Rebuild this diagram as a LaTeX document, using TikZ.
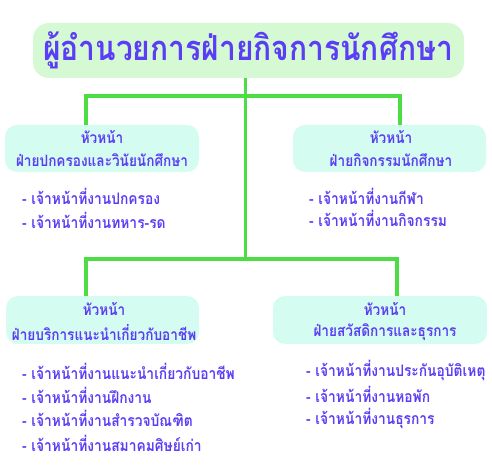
\documentclass[tikz,border=0pt]{standalone}
\usepackage{fontspec}
\newfontfamily\thaifont[Script=Thai]{Loma}
\definecolor{tcol}{HTML}{5B3DF5}
\definecolor{lcol}{HTML}{4CDC44}
\definecolor{titlefill}{HTML}{D5FAD3}
\definecolor{boxfill}{HTML}{D4FCF0}
\newcommand{\tall}[1]{\scalebox{1}[1.15]{#1}}
\tikzset{
  titlebox/.style={fill=titlefill, rounded corners=16pt},
  headbox/.style={fill=boxfill, rounded corners=12pt},
  headtext/.style={text=tcol, font=\thaifont\bfseries\fontsize{13.6}{15}\selectfont, inner sep=0pt, anchor=center},
  item/.style={text=tcol, font=\thaifont\bfseries\fontsize{13.8}{15}\selectfont, inner sep=0pt, anchor=west},
  conn/.style={draw=lcol, line width=3.5pt}
}
\begin{document}
\begin{tikzpicture}[x=1pt,y=-1pt]
\useasboundingbox (0,0) rectangle (492,473);
% title
\path[titlebox] (33,23) rectangle (464,78);
\node (title) [text=tcol, font=\thaifont\bfseries\fontsize{30}{34}\selectfont, inner sep=0pt] at (248,50) {\tall{ผู้อำนวยการฝ่ายกิจการนักศึกษา}};
\coordinate (ttop) at (245.5,78);
% boxes
\path[headbox] (5,125) rectangle (199,172);
\path[headbox] (293,125) rectangle (486,172);
\path[headbox] (6,296) rectangle (199,344);
\path[headbox] (273,296) rectangle (487,344);
% connectors
\coordinate (j1) at (245.5,96);
\coordinate (j2) at (245.5,259);
\coordinate (tl) at (86,125);
\coordinate (tr) at (400,125);
\coordinate (bl) at (86,296);
\coordinate (br) at (397,296);
\draw[conn] (ttop) -- (j2);
\draw[conn] (tl) |- (j1) -| (tr);
\draw[conn] (bl) |- (j2) -| (br);
% head texts
\node (h1a) [headtext] at (102,137) {\tall{หัวหน้า}};
\node (h1b) [headtext] at (102,160) {\tall{ฝ่ายปกครองและวินัยนักศึกษา}};
\node (h2a) [headtext] at (391,137) {\tall{หัวหน้า}};
\node (h2b) [headtext] at (391,160) {\tall{ฝ่ายกิจกรรมนักศึกษา}};
\node (h3a) [headtext] at (104,309) {\tall{หัวหน้า}};
\node (h3b) [headtext] at (104,332) {\tall{ฝ่ายบริการแนะนำเกี่ยวกับอาชีพ}};
\node (h4a) [headtext] at (385,309) {\tall{หัวหน้า}};
\node (h4b) [headtext] at (385,332) {\tall{ฝ่ายสวัสดิการและธุรการ}};
% items
\node (i11) [item] at (22,196) {\tall{- เจ้าหน้าที่งานปกครอง}};
\node (i12) [item] at (22,220) {\tall{- เจ้าหน้าที่งานทหาร-รด}};
\node (i21) [item] at (309,196) {\tall{- เจ้าหน้าที่งานกีฬา}};
\node (i22) [item] at (309,218) {\tall{- เจ้าหน้าที่งานกิจกรรม}};
\node (i31) [item] at (22,371) {\tall{- เจ้าหน้าที่งานแนะนำเกี่ยวกับอาชีพ}};
\node (i32) [item] at (22,395) {\tall{- เจ้าหน้าที่งานฝึกงาน}};
\node (i33) [item] at (22,418) {\tall{- เจ้าหน้าที่งานสำรวจบัณฑิต}};
\node (i34) [item] at (22,443) {\tall{- เจ้าหน้าที่งานสมาคมศิษย์เก่า}};
\node (i41) [item] at (306,370) {\tall{- เจ้าหน้าที่งานประกันอุบัติเหตุ}};
\node (i42) [item] at (306,394) {\tall{- เจ้าหน้าที่งานหอพัก}};
\node (i43) [item] at (306,418) {\tall{- เจ้าหน้าที่งานธุรการ}};
\end{tikzpicture}
\end{document}
